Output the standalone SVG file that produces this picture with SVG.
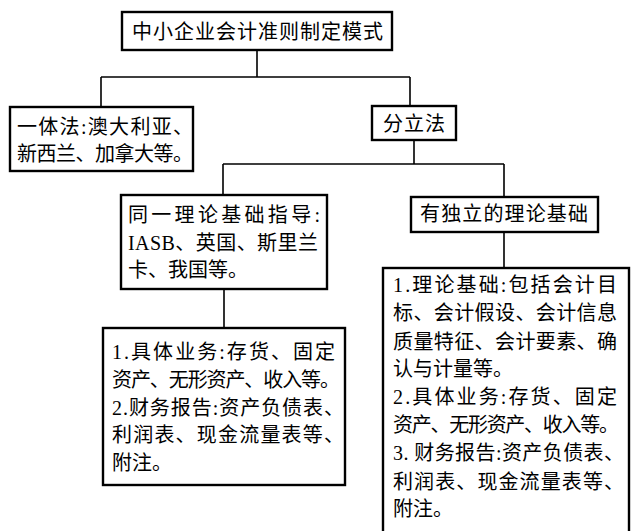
<svg xmlns="http://www.w3.org/2000/svg" width="632" height="531" viewBox="0 0 632 531">
<style>
.box{fill:#fff;stroke:#000;stroke-width:2.4}
.ln{fill:none;stroke:#000;stroke-width:1.6}
text{font-family:"Liberation Serif","Noto Sans CJK SC",serif;font-size:20px;fill:#000}
</style>
<rect width="632" height="531" fill="#fff"/>
<g id="connectors">
<path class="ln" d="M257 50V77M101 77H410M101 77V107M410 77V106"/>
<path class="ln" d="M414 140V164M223 164H504M223 164V195M504 164V197"/>
<path class="ln" d="M224 289V328M504 232V268"/>
</g>
<g id="root">
<rect class="box" x="122" y="12" width="270" height="38"/>
<text x="132" y="39" textLength="251" lengthAdjust="spacing">中小企业会计准则制定模式</text>
</g>
<g id="yiti">
<rect class="box" x="10" y="107" width="183" height="64"/>
<text x="17" y="134" textLength="176" lengthAdjust="spacing">一体法:澳大利亚、</text>
<text x="17" y="161" textLength="176" lengthAdjust="spacing">新西兰、加拿大等。</text>
</g>
<g id="fenli">
<rect class="box" x="372" y="106" width="84" height="34"/>
<text x="383" y="131" textLength="62" lengthAdjust="spacing">分立法</text>
</g>
<g id="tongyi">
<rect class="box" x="121" y="195" width="206" height="94"/>
<text x="128" y="222" textLength="192" lengthAdjust="spacing">同一理论基础指导:</text>
<text x="128" y="250" textLength="190" lengthAdjust="spacing">IASB、英国、斯里兰</text>
<text x="128" y="277">卡、我国等。</text>
</g>
<g id="duli">
<rect class="box" x="411" y="197" width="187" height="35"/>
<text x="420" y="221" textLength="168" lengthAdjust="spacing">有独立的理论基础</text>
</g>
<g id="tongyi-detail">
<rect class="box" x="103" y="328" width="242" height="157"/>
<text x="112" y="359" textLength="223" lengthAdjust="spacing">1.具体业务:存货、固定</text>
<text x="112" y="387" textLength="228" lengthAdjust="spacing">资产、无形资产、收入等。</text>
<text x="112" y="415" textLength="232" lengthAdjust="spacing">2.财务报告:资产负债表、</text>
<text x="112" y="442" textLength="232" lengthAdjust="spacing">利润表、现金流量表等、</text>
<text x="112" y="470">附注。</text>
</g>
<g id="duli-detail">
<rect class="box" x="383" y="268" width="246" height="270"/>
<text x="393" y="292" textLength="224" lengthAdjust="spacing">1.理论基础:包括会计目</text>
<text x="393" y="320" textLength="224" lengthAdjust="spacing">标、会计假设、会计信息</text>
<text x="393" y="349" textLength="224" lengthAdjust="spacing">质量特征、会计要素、确</text>
<text x="393" y="376">认与计量等。</text>
<text x="393" y="404" textLength="224" lengthAdjust="spacing">2.具体业务:存货、固定</text>
<text x="393" y="432" textLength="226" lengthAdjust="spacing">资产、无形资产、收入等。</text>
<text x="393" y="460" textLength="231" lengthAdjust="spacing">3. 财务报告:资产负债表、</text>
<text x="393" y="489" textLength="231" lengthAdjust="spacing">利润表、现金流量表等、</text>
<text x="393" y="516">附注。</text>
</g>
</svg>
